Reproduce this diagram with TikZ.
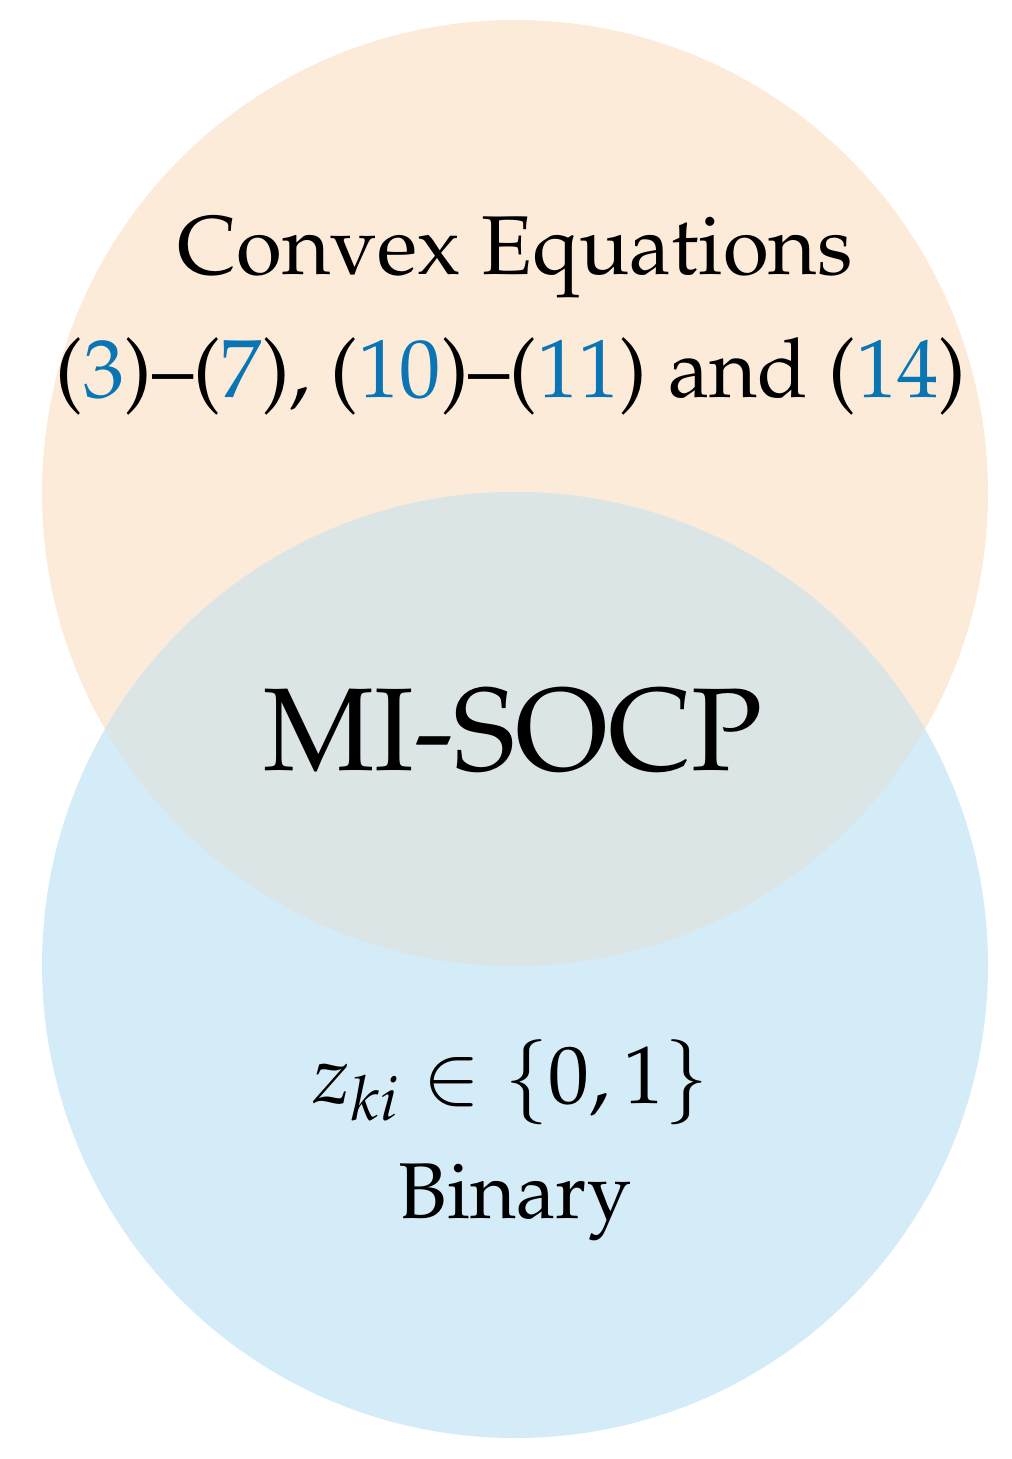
\documentclass[tikz,border=0pt]{standalone}
\usepackage[T1]{fontenc}
\usepackage{mathpazo}
\definecolor{topfill}{RGB}{253,235,217}
\definecolor{botfill}{RGB}{212,236,248}
\definecolor{midfill}{RGB}{220,229,230}
\definecolor{linkblue}{RGB}{10,117,180}
\tikzset{
  px/.style={x=0.02cm,y=-0.02cm},
  lbl/.style={anchor=base,inner sep=0pt,text=black},
}
\newcommand{\lk}[1]{\textcolor{linkblue}{#1}}
\begin{document}
\begin{tikzpicture}[px]
\useasboundingbox (0,0) rectangle (1011,1459);
\coordinate (ct) at (515,493);
\coordinate (cb) at (515,965);
\fill[topfill] (ct) circle[radius=473];
\fill[botfill] (cb) circle[radius=473];
\begin{scope}
\clip (ct) circle[radius=473];
\fill[midfill] (cb) circle[radius=473];
\end{scope}
\node[lbl,font=\fontsize{47.5}{57}\selectfont] (t1) at (515,275) {Convex Equations};
\node[lbl,font=\fontsize{47}{57}\selectfont] (t2) at (511,398) {(\lk{3})--(\lk{7}), (\lk{10})--(\lk{11}) and (\lk{14})};
\node[lbl,font=\fontsize{67}{80}\selectfont] (mid) at (513,770) {MI-SOCP};
\node[lbl,font=\fontsize{46.5}{56}\selectfont] (b1) at (511,1103) {$z_{ki}\in\{0,1\}$};
\node[lbl,font=\fontsize{45}{54}\selectfont] (b2) at (515,1218) {Binary};
\end{tikzpicture}
\end{document}
